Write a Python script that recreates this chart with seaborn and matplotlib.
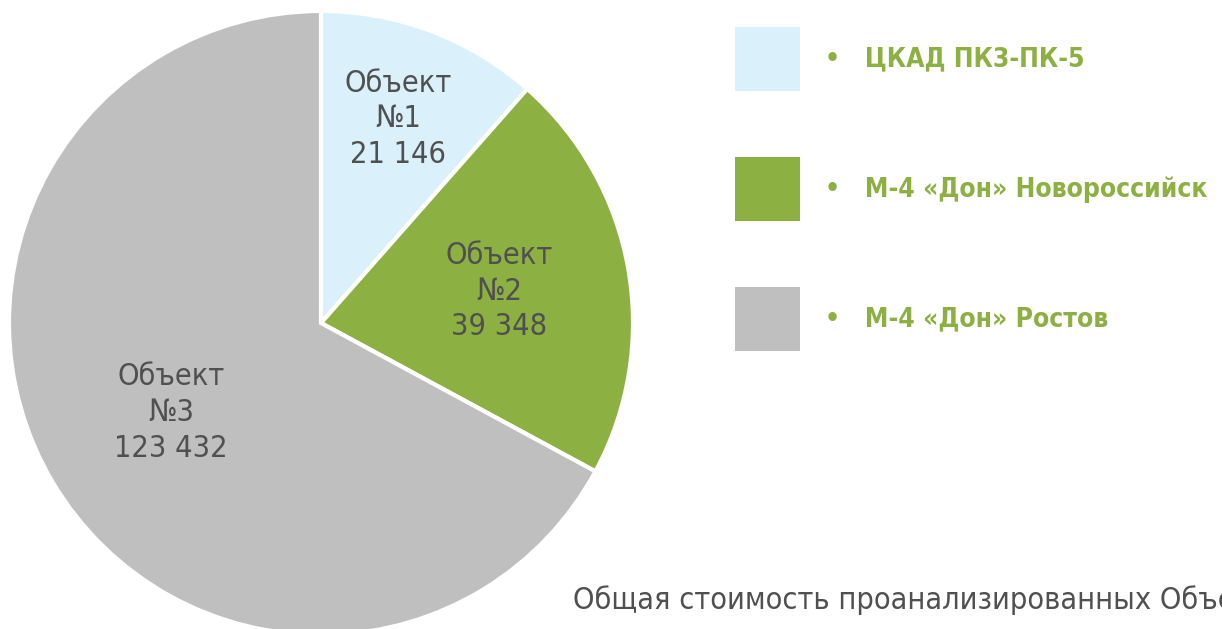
import numpy as np
import pandas as pd
import matplotlib
matplotlib.use('Agg')
import matplotlib.pyplot as plt
from matplotlib.patches import Patch
import seaborn as sns

# данные
objects = ['Объект\n№1', 'Объект\n№2', 'Объект\n№3']
values = [21146, 39348, 123432]
names = ['ЦКАД ПК3-ПК-5', 'М-4 «Дон» Новороссийск', 'М-4 «Дон» Ростов']
colors = ['#DAF0FA', '#8DB042', '#BFBFBF']
footer = 'Общая стоимость проанализированных Объектов'

sns.set_theme(style='white')
plt.rcParams['font.family'] = ['DejaVu Sans']

fig = plt.figure(figsize=(12.22, 6.29), dpi=100)
ax = fig.add_axes([9 / 1222, -6 / 629, 624 / 1222, 624 / 629])

wedges, _ = ax.pie(values, colors=colors, startangle=90, counterclock=False,
                   wedgeprops={'edgecolor': 'white', 'linewidth': 3})
ax.set_xlim(-1, 1)
ax.set_ylim(-1, 1)

# подписи секторов
label_r = [0.70, 0.58, 0.56]
for w, obj, v, r in zip(wedges, objects, values, label_r):
    ang = np.deg2rad((w.theta1 + w.theta2) / 2)
    txt = f'{obj}\n{v:,}'.replace(',', ' ')
    ax.text(r * np.cos(ang), r * np.sin(ang), txt, ha='center', va='center',
            fontsize=22, color='#505050', linespacing=1.29,
            fontstretch='condensed')

# легенда
handles = [Patch(facecolor=c, edgecolor='none') for c in colors]
leg = fig.legend(handles, ['•   ' + n for n in names],
                 loc='upper left', bbox_to_anchor=(722 / 1222, 1 - 14 / 629),
                 frameon=False, labelcolor='#8DB042',
                 prop={'weight': 'bold', 'size': 19, 'stretch': 'condensed'},
                 handlelength=2.45, handleheight=3.35,
                 labelspacing=2.5, handletextpad=0.95, borderpad=0)

fig.text(573 / 1222, 1 - 600 / 629, footer, fontsize=22, color='#505050',
         va='center', ha='left', fontstretch='condensed')

fig.savefig('out.png', dpi=100)
